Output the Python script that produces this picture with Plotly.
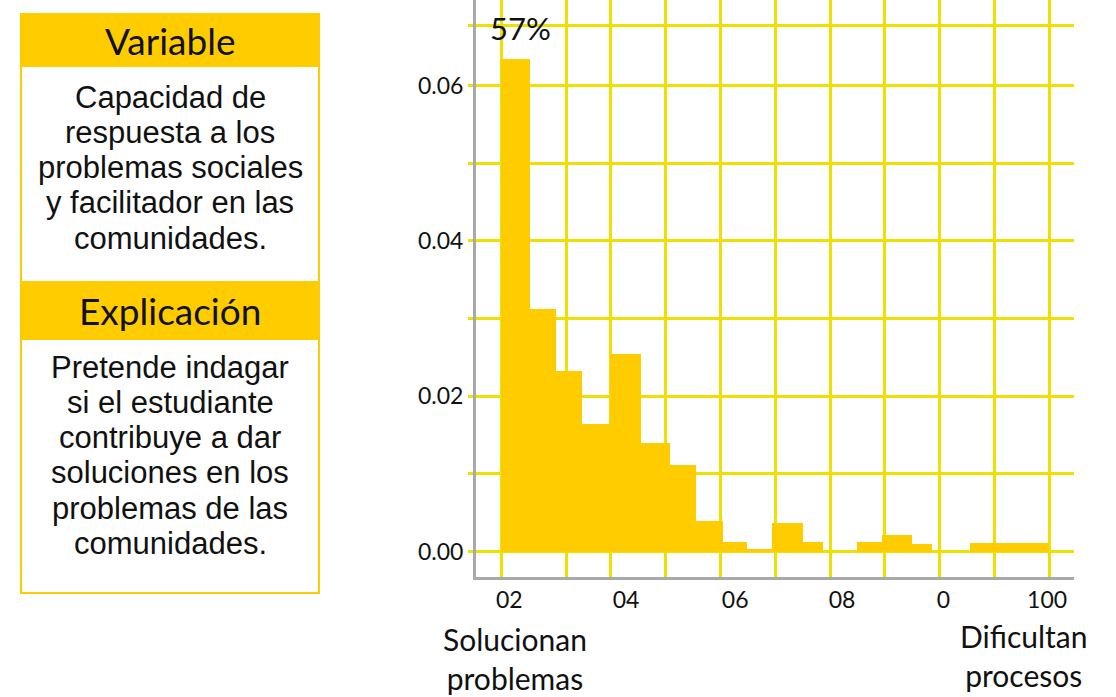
import plotly.graph_objects as go

# ---------------- data ----------------
bin_left = [0, 5.2, 10.0, 14.8, 19.9, 25.5, 30.8, 35.5, 40.4, 44.8, 49.4, 55.0, 64.9, 69.5, 75.0, 85.5]
bin_right = [5.2, 10.0, 14.8, 19.9, 25.5, 30.8, 35.5, 40.4, 44.8, 49.4, 55.0, 58.8, 69.5, 75.0, 78.6, 100]
density = [0.0634, 0.0312, 0.0232, 0.0164, 0.0255, 0.0140, 0.0111, 0.0040, 0.0013, 0.0004,
           0.0037, 0.0012, 0.0012, 0.0021, 0.0010, 0.0011]

x_tick_vals = [1.5, 22.8, 42.7, 62.2, 80.7, 99.6]
x_tick_text = ["02", "04", "06", "08", "0", "100"]
x_grid_vals = [0, 12, 20, 30, 40, 50, 60, 70, 80, 90, 100]

y_tick_vals = [0.0, 0.02, 0.04, 0.06]
y_tick_text = ["0.00", "0.02", "0.04", "0.06"]
y_minor_vals = [0.01, 0.03, 0.05, 0.0677]

peak_label = "57%"
left_label = "Solucionan<br>problemas"
right_label = "Dificultan<br>procesos"

var_title = "Variable"
var_lines = ["Capacidad de", "respuesta a los", "problemas sociales",
             "y facilitador en las", "comunidades."]
exp_title = "Explicación"
exp_lines = ["Pretende indagar", "si el estudiante", "contribuye a dar",
             "soluciones en los", "problemas de las", "comunidades."]

# ---------------- styling ----------------
BAR = "#FFCC00"
GRID = "#EEE000"
AXIS = "#A9A9A9"
TXT = "#111111"
W, H = 1116, 697
PL, PR, PT, PB = 476, 1074, 0, 577


def px(x):
    return (x - PL) / (PR - PL)


def py(y):
    return (PB - y) / (PB - PT)


centers = [(l + r) / 2 for l, r in zip(bin_left, bin_right)]
widths = [r - l for l, r in zip(bin_left, bin_right)]

fig = go.Figure()
fig.add_trace(go.Bar(
    x=centers, y=density, width=widths,
    marker=dict(color=BAR, line=dict(width=0)),
    hoverinfo="skip", showlegend=False,
))

fig.update_layout(
    width=W, height=H,
    margin=dict(l=PL, r=W - PR, t=PT, b=H - PB),
    paper_bgcolor="white", plot_bgcolor="white",
    font=dict(family="Lato", color=TXT),
    showlegend=False,
    bargap=0,
)

fig.update_xaxes(
    range=[-4.56, 104.5],
    tickmode="array", tickvals=x_tick_vals, ticktext=x_tick_text,
    tickfont=dict(family="Lato", size=23, color=TXT),
    showgrid=False, zeroline=False, ticks="",
    showline=True, linecolor=AXIS, linewidth=3,
    minor=dict(tickmode="array", tickvals=x_grid_vals, showgrid=True,
               gridcolor=GRID, gridwidth=2.5, ticks=""),
    fixedrange=True,
)
fig.update_yaxes(
    range=[-0.00326, 0.0710],
    tickmode="array", tickvals=y_tick_vals, ticktext=y_tick_text,
    tickfont=dict(family="Lato", size=23, color=TXT),
    showgrid=True, gridcolor=GRID, gridwidth=2.5, zeroline=False,
    ticks="outside", ticklen=5, tickcolor=GRID, tickwidth=2.5,
    showline=True, linecolor=AXIS, linewidth=3,
    minor=dict(tickmode="array", tickvals=y_minor_vals, showgrid=True,
               gridcolor=GRID, gridwidth=2.5, ticks="outside", ticklen=5,
               tickcolor=GRID, tickwidth=2.5),
    fixedrange=True,
)

shapes = []
# left info panel
BX0, BX1 = 20, 320
shapes.append(dict(type="rect", xref="paper", yref="paper",
                   x0=px(BX0), x1=px(BX1), y0=py(13), y1=py(67),
                   fillcolor=BAR, line=dict(width=0), layer="above"))
shapes.append(dict(type="rect", xref="paper", yref="paper",
                   x0=px(BX0), x1=px(BX1), y0=py(281), y1=py(340),
                   fillcolor=BAR, line=dict(width=0), layer="above"))
shapes.append(dict(type="rect", xref="paper", yref="paper",
                   x0=px(BX0 + 1), x1=px(BX1 - 1), y0=py(14), y1=py(593),
                   fillcolor="rgba(0,0,0,0)", line=dict(color=BAR, width=2), layer="above"))
fig.update_layout(shapes=shapes)

ann = []


def add_text(text, x, y, family, size):
    ann.append(dict(text=text, x=px(x), y=py(y), xref="paper", yref="paper",
                    xanchor="center", yanchor="middle", showarrow=False,
                    font=dict(family=family, size=size, color=TXT)))


BCX = (BX0 + BX1) / 2
add_text(var_title, BCX, 41, "Lato", 37)
for i, line in enumerate(var_lines):
    add_text(line, BCX, 97 + 35.3 * i, "Liberation Sans", 31)
add_text(exp_title, BCX, 310, "Lato", 37)
for i, line in enumerate(exp_lines):
    add_text(line, BCX, 367 + 35.3 * i, "Liberation Sans", 31)

add_text(peak_label, 520, 28, "Lato", 31)
add_text(left_label, 515, 658, "Lato", 30)
add_text(right_label, 1023, 655, "Lato", 30)
fig.update_layout(annotations=ann)

fig.write_html("out.html", post_script="document.body.style.margin='0';",
               config={"displayModeBar": False})
